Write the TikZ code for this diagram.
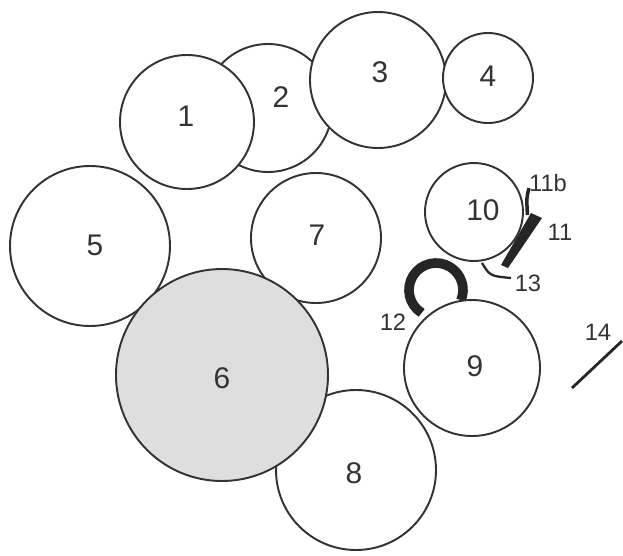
\documentclass[tikz,border=0pt]{standalone}
\usepackage{fontspec}
\setmainfont{Liberation Sans}
\tikzset{
  disc/.style={draw=black!80, line width=1.1pt, fill=white},
  num/.style={font=\fontsize{17}{20}\selectfont, text=black!80},
  tag/.style={font=\fontsize{13.5}{16}\selectfont, text=black!80}
}
\begin{document}
\begin{tikzpicture}
    \useasboundingbox (0,0) rectangle (12.46,-11.10);

    \filldraw[disc] (5.36,-2.16) circle (1.28cm);
    \filldraw[disc] (3.74,-2.44) circle (1.34cm);
    \filldraw[disc] (7.56,-1.60) circle (1.36cm);
    \filldraw[disc] (9.76,-1.56) circle (0.90cm);
    \filldraw[disc] (1.80,-4.92) circle (1.60cm);
    \filldraw[disc] (6.32,-4.76) circle (1.30cm);
    \filldraw[disc] (7.12,-9.40) circle (1.60cm);
    \filldraw[disc, fill=black!13] (4.44,-7.50) circle (2.12cm);

    % small marks
    \draw[line width=5.5pt, black!85] (8.72,-5.80) ++(238:0.54) arc[start angle=238, end angle=-22, radius=0.54];
    \filldraw[disc] (9.44,-7.36) circle (1.36cm);
    \filldraw[disc] (9.48,-4.24) circle (0.98cm);
    \fill[black!85] (10.62,-4.26) -- (10.84,-4.36) -- (10.16,-5.36) -- (10.02,-5.30) -- cycle;
    \draw[line width=2pt, black!85] (10.58,-3.76) .. controls (10.53,-3.96) .. (10.55,-4.30);
    \draw[line width=1.3pt, black!85] (9.64,-5.26) .. controls (9.80,-5.52) .. (10.22,-5.56);
    \draw[line width=1.6pt, black!85] (11.44,-7.76) -- (12.44,-6.82);

    \node[num] (n1) at (3.72,-2.32) {1};
    \node[num] (n2) at (5.62,-1.94) {2};
    \node[num] (n3) at (7.60,-1.44) {3};
    \node[num] (n4) at (9.76,-1.52) {4};
    \node[num] (n5) at (1.90,-4.90) {5};
    \node[num] (n6) at (4.44,-7.56) {6};
    \node[num] (n7) at (6.34,-4.70) {7};
    \node[num] (n8) at (7.08,-9.46) {8};
    \node[num] (n9) at (9.50,-7.32) {9};
    \node[num] (n10) at (9.66,-4.20) {10};

    \node[tag] (n11b) at (10.96,-3.66) {11b};
    \node[tag] (n11) at (11.20,-4.64) {11};
    \node[tag] (n13) at (10.56,-5.66) {13};
    \node[tag] (n12) at (7.86,-6.44) {12};
    \node[tag] (n14) at (11.96,-6.64) {14};
\end{tikzpicture}
\end{document}
